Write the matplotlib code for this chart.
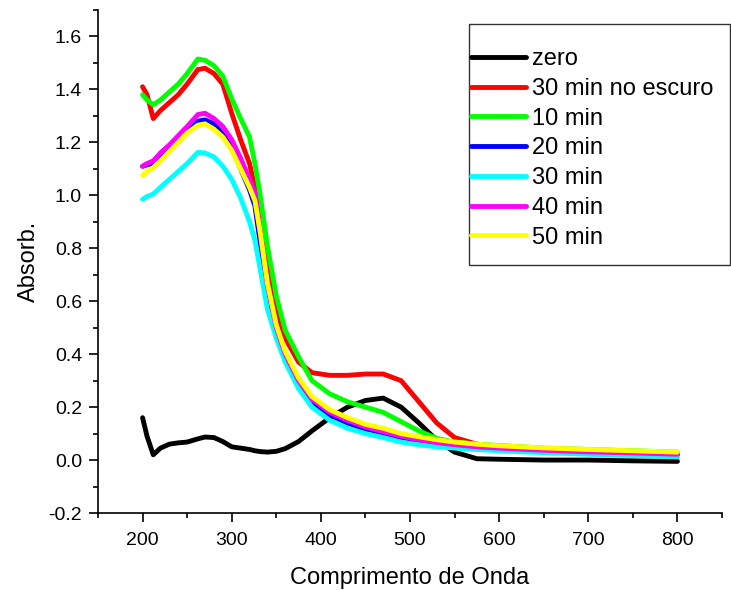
import numpy as np
import matplotlib
matplotlib.use("Agg")
import matplotlib.pyplot as plt
from matplotlib.patches import Rectangle

plt.rcParams['font.family'] = ['Liberation Sans', 'DejaVu Sans']

# wavelength grid (nm)
wl = [200, 205, 212, 220, 230, 240, 250, 262, 270, 280, 290, 300, 310, 320, 326,
      332, 340, 350, 360, 375, 390, 410, 430, 450, 470, 490, 510, 530, 550, 575,
      600, 650, 700, 750, 800]

zero = [0.16, 0.09, 0.02, 0.045, 0.06, 0.065, 0.068, 0.08, 0.087, 0.085, 0.07, 0.05,
        0.045, 0.04, 0.035, 0.032, 0.03, 0.033, 0.043, 0.07, 0.11, 0.16, 0.2, 0.225,
        0.234, 0.2, 0.14, 0.075, 0.03, 0.005, 0.003, 0.0, 0.0, -0.003, -0.005]
escuro30 = [1.41, 1.38, 1.29, 1.32, 1.35, 1.38, 1.42, 1.475, 1.48, 1.46, 1.42, 1.31,
            1.21, 1.12, 1.03, 0.87, 0.72, 0.56, 0.46, 0.37, 0.33, 0.32, 0.32, 0.325,
            0.325, 0.3, 0.22, 0.14, 0.085, 0.06, 0.05, 0.04, 0.035, 0.03, 0.025]
min10 = [1.38, 1.36, 1.342, 1.36, 1.39, 1.42, 1.46, 1.515, 1.51, 1.49, 1.45, 1.365,
         1.29, 1.22, 1.12, 1.0, 0.81, 0.62, 0.49, 0.39, 0.30, 0.25, 0.22, 0.2, 0.18,
         0.145, 0.11, 0.082, 0.068, 0.06, 0.055, 0.045, 0.04, 0.035, 0.03]
min20 = [1.11, 1.115, 1.12, 1.15, 1.18, 1.21, 1.245, 1.28, 1.285, 1.27, 1.23, 1.18,
         1.10, 1.02, 0.96, 0.82, 0.64, 0.48, 0.38, 0.29, 0.22, 0.17, 0.14, 0.117, 0.1,
         0.085, 0.073, 0.063, 0.055, 0.048, 0.042, 0.034, 0.028, 0.024, 0.02]
min30 = [0.985, 0.995, 1.005, 1.03, 1.06, 1.09, 1.12, 1.162, 1.16, 1.145, 1.11, 1.06,
         0.99, 0.90, 0.83, 0.72, 0.57, 0.46, 0.37, 0.27, 0.2, 0.15, 0.12, 0.1, 0.085,
         0.068, 0.058, 0.05, 0.045, 0.04, 0.035, 0.028, 0.022, 0.017, 0.012]
min40 = [1.11, 1.12, 1.13, 1.16, 1.19, 1.225, 1.26, 1.305, 1.31, 1.29, 1.26, 1.21,
         1.14, 1.06, 1.01, 0.86, 0.66, 0.50, 0.40, 0.30, 0.23, 0.18, 0.15, 0.125, 0.107,
         0.09, 0.077, 0.066, 0.058, 0.05, 0.045, 0.037, 0.031, 0.027, 0.022]
min50 = [1.075, 1.09, 1.105, 1.13, 1.165, 1.2, 1.235, 1.265, 1.27, 1.25, 1.22, 1.17,
         1.10, 1.03, 0.98, 0.86, 0.67, 0.51, 0.41, 0.31, 0.24, 0.19, 0.16, 0.135, 0.12,
         0.1, 0.088, 0.077, 0.068, 0.06, 0.054, 0.046, 0.04, 0.035, 0.03]

labels = ["zero", "30 min no escuro", "10 min", "20 min", "30 min", "40 min", "50 min"]
series = [zero, escuro30, min10, min20, min30, min40, min50]
colors = ["#000000", "#FF0000", "#00FF00", "#0000FF", "#00FFFF", "#FF00FF", "#FFFF00"]

fig = plt.figure(figsize=(7.31, 5.90), dpi=100)
ax = fig.add_axes([98/731, 1 - 513/590, 624/731, 503/590])

handles = []
for y, c, lab in zip(series, colors, labels):
    h, = ax.plot(wl, y, color=c, lw=3.5, label=lab,
                 solid_joinstyle='round', solid_capstyle='round')
    handles.append(h)

ax.set_xlim(150, 850)
ax.set_ylim(-0.2, 1.7)
ax.set_xticks(np.arange(200, 801, 100))
ax.set_xticks(np.arange(150, 851, 50), minor=True)
ax.set_yticks(np.arange(-0.2, 1.61, 0.2))
ax.set_yticks(np.arange(-0.2, 1.71, 0.1), minor=True)
ax.yaxis.set_major_formatter(matplotlib.ticker.FormatStrFormatter('%.1f'))

for s in ['top', 'right']:
    ax.spines[s].set_visible(False)
for s in ['left', 'bottom']:
    ax.spines[s].set_linewidth(1.2)

ax.tick_params(which='major', direction='out', length=6.5, width=1.2, labelsize=14)
ax.tick_params(which='minor', direction='out', length=3.5, width=1.2)
ax.tick_params(axis='y', pad=5)
ax.tick_params(axis='x', pad=7)

ax.set_xlabel("Comprimento de Onda", fontsize=17, labelpad=13)
ax.set_ylabel("Absorb.", fontsize=17, labelpad=6)

# legend box drawn separately, entries inside
fig.patches.append(Rectangle((469/731, 1 - 265/590), (730 - 469)/731, (265 - 24)/590,
                             transform=fig.transFigure, fill=False,
                             edgecolor='#333333', lw=1.0))
fig.legend(handles=handles, loc='upper left', bbox_to_anchor=(471/731, 1 - 48/590),
           frameon=False, fontsize=17, handlelength=2.33, handletextpad=0.25,
           labelspacing=0.33, borderpad=0, borderaxespad=0)

fig.savefig("out.png", dpi=100)
